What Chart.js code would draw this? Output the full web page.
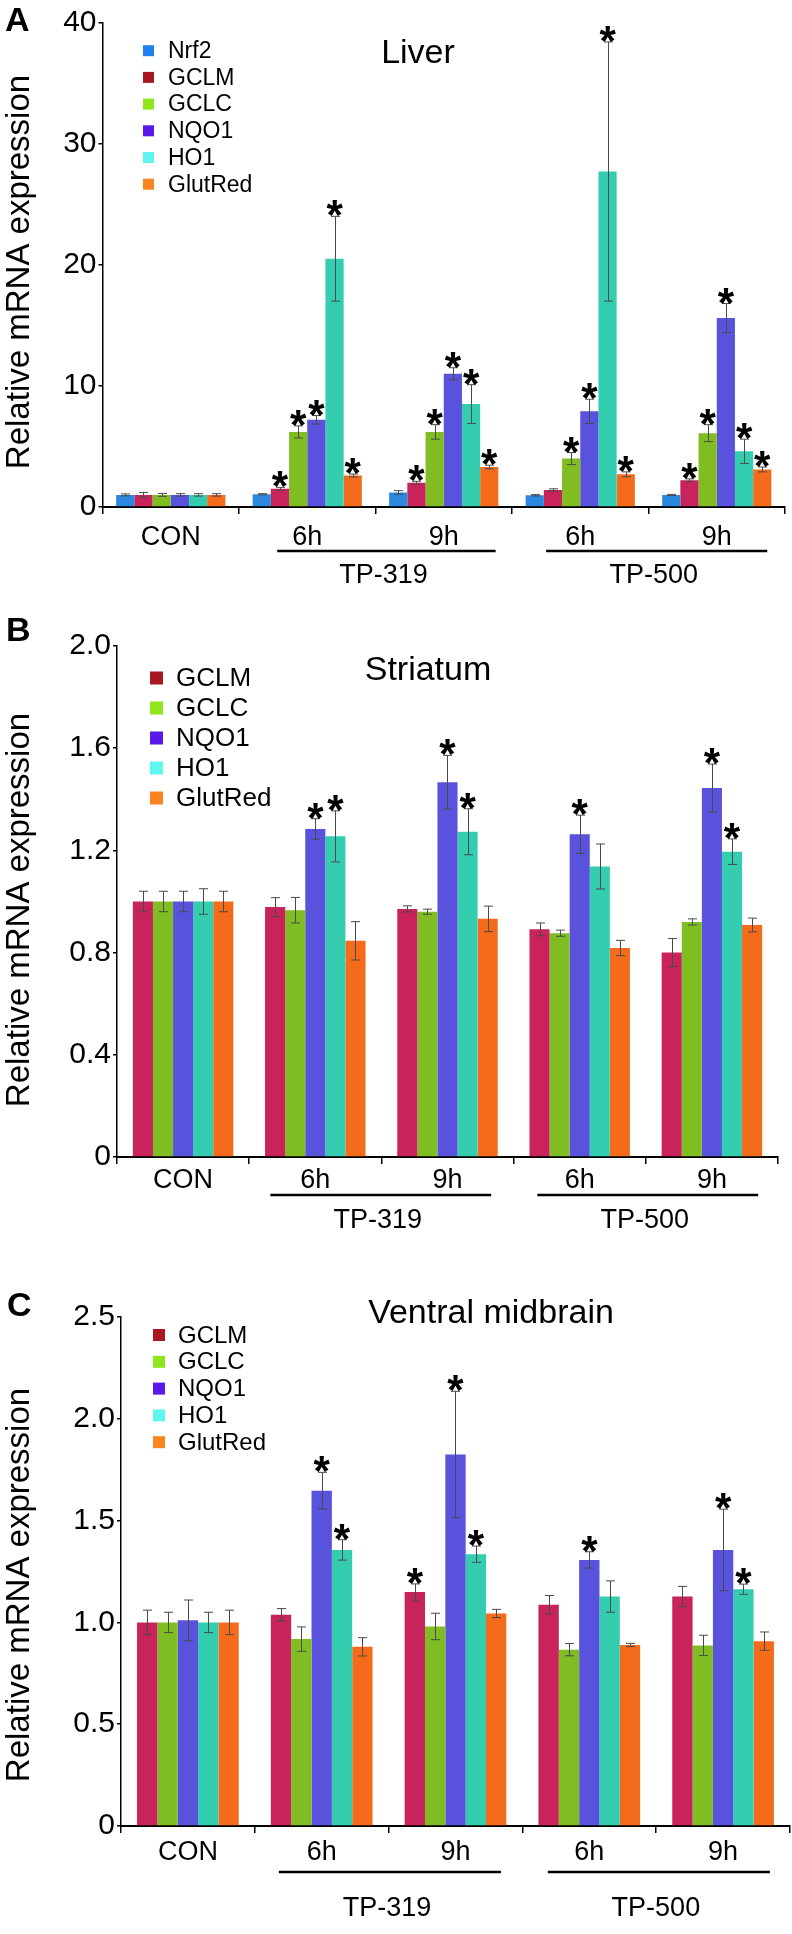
<!DOCTYPE html>
<html>
<head>
<meta charset="utf-8">
<script src="https://cdn.jsdelivr.net/npm/chart.js@4.4.1/dist/chart.umd.min.js"></script>
<style>
  body { margin: 0; background: #fff; }
  #wrap { position: relative; width: 792px; height: 1934px; background: #fff; }
  canvas { position: absolute; left: 0; }
</style>
</head>
<body>
<div id="wrap">
  <canvas id="chartA" width="792" height="600" style="top:0px"></canvas>
  <canvas id="chartB" width="792" height="650" style="top:600px"></canvas>
  <canvas id="chartC" width="792" height="684" style="top:1250px"></canvas>
</div>
<script>
const FONT = '"Liberation Sans", Arial, Helvetica, sans-serif';

// x categories (CON, then TP-319 6h/9h, TP-500 6h/9h)
const groupLabels = ['CON', '6h', '9h', '6h', '9h'];
const treatmentLabels = ['TP-319', 'TP-500'];
const liverGenes = ['Nrf2', 'GCLM', 'GCLC', 'NQO1', 'HO1', 'GlutRed'];
const brainGenes = ['GCLM', 'GCLC', 'NQO1', 'HO1', 'GlutRed'];

// A - Liver: one row per gene, one column per group
const liverMean = [
    [1.0, 1.05, 1.2, 0.97, 0.99],
    [1.0, 1.5, 2.0, 1.4, 2.2],
    [1.0, 6.2, 6.2, 4.0, 6.1],
    [1.0, 7.2, 11.0, 7.9, 15.6],
    [1.0, 20.5, 8.5, 27.7, 4.6],
    [1.0, 2.6, 3.3, 2.7, 3.1]
];
const liverSem = [
    [0.08, 0.05, 0.15, 0.05, 0.05],
    [0.2, 0.12, 0.12, 0.1, 0.12],
    [0.12, 0.5, 0.6, 0.5, 0.7],
    [0.1, 0.35, 0.5, 1.0, 1.2],
    [0.1, 3.5, 1.6, 10.7, 1.0],
    [0.1, 0.12, 0.15, 0.2, 0.2]
];
const liverStar = [
    [0, 0, 0, 0, 0],
    [0, 1, 1, 0, 1],
    [0, 1, 1, 1, 1],
    [0, 1, 1, 1, 1],
    [0, 1, 1, 1, 1],
    [0, 1, 1, 1, 1]
];

// B - Striatum
const striatumMean = [
    [1.0, 0.978, 0.971, 0.891, 0.80],
    [1.0, 0.966, 0.96, 0.876, 0.92],
    [1.0, 1.284, 1.467, 1.263, 1.444],
    [1.0, 1.255, 1.273, 1.137, 1.195],
    [1.0, 0.846, 0.932, 0.818, 0.908]
];
const striatumSem = [
    [0.04, 0.037, 0.012, 0.025, 0.055],
    [0.04, 0.05, 0.01, 0.012, 0.012],
    [0.04, 0.04, 0.105, 0.075, 0.094],
    [0.05, 0.1, 0.09, 0.088, 0.05],
    [0.04, 0.075, 0.05, 0.03, 0.027]
];
const striatumStar = [
    [0, 0, 0, 0, 0],
    [0, 0, 0, 0, 0],
    [0, 1, 1, 1, 1],
    [0, 1, 1, 0, 1],
    [0, 0, 0, 0, 0]
];

// C - Ventral midbrain
const midbrainMean = [
    [1.0, 1.038, 1.149, 1.087, 1.127],
    [1.0, 0.918, 0.98, 0.866, 0.887],
    [1.01, 1.647, 1.825, 1.307, 1.356],
    [1.0, 1.356, 1.335, 1.127, 1.163],
    [1.0, 0.88, 1.044, 0.889, 0.908]
];
const midbrainSem = [
    [0.06, 0.03, 0.04, 0.045, 0.05],
    [0.05, 0.06, 0.065, 0.03, 0.05],
    [0.1, 0.09, 0.31, 0.04, 0.2],
    [0.05, 0.05, 0.04, 0.077, 0.025],
    [0.06, 0.045, 0.02, 0.008, 0.045]
];
const midbrainStar = [
    [0, 0, 1, 0, 0],
    [0, 0, 0, 0, 0],
    [0, 1, 1, 1, 1],
    [0, 1, 1, 0, 1],
    [0, 0, 0, 0, 0]
];

// bar colours and (brighter) legend swatch colours
const barColors = {
    Nrf2: '#2a88de', GCLM: '#c8235a', GCLC: '#80bd22',
    NQO1: '#5852dc', HO1: '#35cdb0', GlutRed: '#f56b1c'
};
const swatchColors = {
    Nrf2: '#1f80f0', GCLM: '#a8181f', GCLC: '#90e61c',
    NQO1: '#5a18ea', HO1: '#60f6f0', GlutRed: '#fb8420'
};

const decorPlugin = {
    id: 'decor',
    afterDatasetsDraw(chart) {
        const p = chart.options.plugins.decor;
        const ctx = chart.ctx;
        const yScale = chart.scales.y;
        ctx.save();
        chart.data.datasets.forEach(function (ds, di) {
            const meta = chart.getDatasetMeta(di);
            meta.data.forEach(function (bar, i) {
                const top = yScale.getPixelForValue(ds.data[i] + ds.sem[i]);
                const bot = yScale.getPixelForValue(ds.data[i] - ds.sem[i]);
                const x = Math.round(bar.x) + 0.5;
                ctx.strokeStyle = '#4a4a4a';
                ctx.lineWidth = 1;
                ctx.beginPath();
                ctx.moveTo(x, top); ctx.lineTo(x, bot);
                ctx.moveTo(x - 4.5, top); ctx.lineTo(x + 4.5, top);
                ctx.moveTo(x - 4.5, bot); ctx.lineTo(x + 4.5, bot);
                ctx.stroke();
                if (ds.star[i]) {
                    ctx.fillStyle = '#000';
                    ctx.font = 'bold 42px ' + FONT;
                    ctx.textAlign = 'center';
                    ctx.textBaseline = 'alphabetic';
                    ctx.fillText('*', bar.x, top + p.starShift);
                }
            });
        });
        ctx.restore();
    },
    afterDraw(chart) {
        const p = chart.options.plugins.decor;
        const ctx = chart.ctx;
        const xScale = chart.scales.x;
        const area = chart.chartArea;
        ctx.save();
        ctx.fillStyle = '#000';

        // panel letter
        ctx.font = 'bold 34px ' + FONT;
        ctx.textAlign = 'left';
        ctx.textBaseline = 'alphabetic';
        ctx.fillText(p.letter, p.letterX, p.letterY);

        // title
        ctx.font = '34px ' + FONT;
        ctx.textAlign = 'center';
        ctx.fillText(p.title, p.titleX, p.titleY);

        // y axis title
        ctx.save();
        ctx.translate(19.5, p.yTitleY);
        ctx.rotate(-Math.PI / 2);
        ctx.font = '33px ' + FONT;
        ctx.textAlign = 'center';
        ctx.textBaseline = 'middle';
        ctx.fillText('Relative mRNA expression', 0, 0);
        ctx.restore();

        // legend
        ctx.font = p.legendFont + 'px ' + FONT;
        ctx.textAlign = 'left';
        ctx.textBaseline = 'middle';
        chart.data.datasets.forEach(function (ds, i) {
            const cy = p.legendY + i * p.legendGap;
            ctx.fillStyle = swatchColors[ds.label];
            ctx.fillRect(p.legendX, cy - p.swatch / 2, p.swatch, p.swatch);
            ctx.fillStyle = '#000';
            ctx.fillText(ds.label, p.legendTextX, cy + 1);
        });

        // treatment group lines and labels
        const cat = xScale.getPixelForValue(1) - xScale.getPixelForValue(0);
        p.groups.forEach(function (g, k) {
            const x1 = xScale.getPixelForValue(g.from) + g.fromOff * cat;
            const x2 = xScale.getPixelForValue(g.to) + g.toOff * cat;
            ctx.strokeStyle = '#000';
            ctx.lineWidth = 2.5;
            ctx.beginPath();
            ctx.moveTo(x1, area.bottom + p.lineDy);
            ctx.lineTo(x2, area.bottom + p.lineDy);
            ctx.stroke();
            ctx.fillStyle = '#000';
            ctx.font = '27px ' + FONT;
            ctx.textAlign = 'center';
            ctx.textBaseline = 'alphabetic';
            ctx.fillText(treatmentLabels[k], (x1 + x2) / 2 - 3, area.bottom + p.labelDy);
        });
        ctx.restore();
    }
};

function makePanel(cfg) {
    const datasets = cfg.genes.map(function (gene, i) {
        return {
            label: gene,
            data: cfg.mean[i],
            sem: cfg.sem[i],
            star: cfg.star[i],
            backgroundColor: barColors[gene],
            borderWidth: 0,
            categoryPercentage: cfg.catPct,
            barPercentage: 1.0
        };
    });
    const canvas = document.getElementById(cfg.id);
    const H = canvas.height;

    new Chart(canvas, {
        type: 'bar',
        data: { labels: groupLabels, datasets: datasets },
        plugins: [decorPlugin],
        options: {
            responsive: false,
            animation: false,
            devicePixelRatio: 1,
            layout: {
                padding: { left: 0, top: cfg.top - cfg.canvasTop, right: 792 - cfg.right, bottom: 0 }
            },
            scales: {
                x: {
                    grid: {
                        display: true, drawOnChartArea: false, drawTicks: true,
                        tickLength: 7, color: '#000', lineWidth: 1.5, offset: true
                    },
                    border: { display: true, color: '#000', width: 2 },
                    ticks: {
                        color: '#000', font: { family: FONT, size: 27 },
                        padding: cfg.tickPad, autoSkip: false, maxRotation: 0
                    },
                    afterFit: function (scale) { scale.height = H - (cfg.bottom - cfg.canvasTop); }
                },
                y: {
                    min: 0, max: cfg.max,
                    grid: {
                        display: true, drawOnChartArea: false, drawTicks: true,
                        tickLength: 4, color: '#000', lineWidth: 1.5
                    },
                    border: { display: true, color: '#000', width: 1.5 },
                    ticks: {
                        stepSize: cfg.step, color: '#000', padding: 2,
                        font: { family: FONT, size: 30 },
                        callback: function (v) { return v === 0 ? '0' : v.toFixed(cfg.decimals); }
                    },
                    afterFit: function (scale) { scale.width = cfg.left; }
                }
            },
            plugins: {
                legend: { display: false },
                tooltip: { enabled: false },
                decor: {
                    letter: cfg.letter, letterX: cfg.letterX, letterY: cfg.letterY - cfg.canvasTop,
                    title: cfg.title, titleX: cfg.titleX, titleY: cfg.titleY - cfg.canvasTop,
                    yTitleY: cfg.yTitleY - cfg.canvasTop,
                    legendX: cfg.legendX, legendTextX: cfg.legendTextX,
                    legendY: cfg.legendY - cfg.canvasTop, legendGap: cfg.legendGap,
                    legendFont: cfg.legendFont, swatch: cfg.swatch,
                    starShift: 13,
                    lineDy: cfg.lineDy, labelDy: cfg.labelDy,
                    groups: cfg.groups
                }
            }
        }
    });
}

makePanel({
    id: 'chartA', canvasTop: 0,
    genes: liverGenes, mean: liverMean, sem: liverSem, star: liverStar,
    max: 40, step: 10, decimals: 0,
    left: 102.5, right: 785, top: 22.6, bottom: 507,
    catPct: 0.8, tickPad: 7,
    letter: 'A', letterX: 5, letterY: 31,
    title: 'Liver', titleX: 418, titleY: 63,
    yTitleY: 272,
    legendX: 143, legendTextX: 168, legendY: 50.7, legendGap: 26.7, legendFont: 23, swatch: 11,
    lineDy: 44, labelDy: 76,
    groups: [
        { from: 1, fromOff: -0.22, to: 2, toOff: 0.38 },
        { from: 3, fromOff: -0.25, to: 4, toOff: 0.37 }
    ]
});

makePanel({
    id: 'chartB', canvasTop: 600,
    genes: brainGenes, mean: striatumMean, sem: striatumSem, star: striatumStar,
    max: 2.0, step: 0.4, decimals: 1,
    left: 117, right: 778, top: 646, bottom: 1157,
    catPct: 0.76, tickPad: 0,
    letter: 'B', letterX: 6, letterY: 641,
    title: 'Striatum', titleX: 428, titleY: 680,
    yTitleY: 910,
    legendX: 150, legendTextX: 176, legendY: 678, legendGap: 30, legendFont: 26, swatch: 13,
    lineDy: 38, labelDy: 71,
    groups: [
        { from: 1, fromOff: -0.34, to: 2, toOff: 0.33 },
        { from: 3, fromOff: -0.32, to: 4, toOff: 0.35 }
    ]
});

makePanel({
    id: 'chartC', canvasTop: 1250,
    genes: brainGenes, mean: midbrainMean, sem: midbrainSem, star: midbrainStar,
    max: 2.5, step: 0.5, decimals: 1,
    left: 121, right: 790, top: 1317, bottom: 1826,
    catPct: 0.76, tickPad: 3,
    letter: 'C', letterX: 7, letterY: 1316,
    title: 'Ventral midbrain', titleX: 491, titleY: 1323,
    yTitleY: 1585,
    legendX: 153, legendTextX: 178, legendY: 1335, legendGap: 26.8, legendFont: 24, swatch: 12,
    lineDy: 46, labelDy: 90,
    groups: [
        { from: 1, fromOff: -0.32, to: 2, toOff: 0.34 },
        { from: 3, fromOff: -0.31, to: 4, toOff: 0.35 }
    ]
});
</script>
</body>
</html>
